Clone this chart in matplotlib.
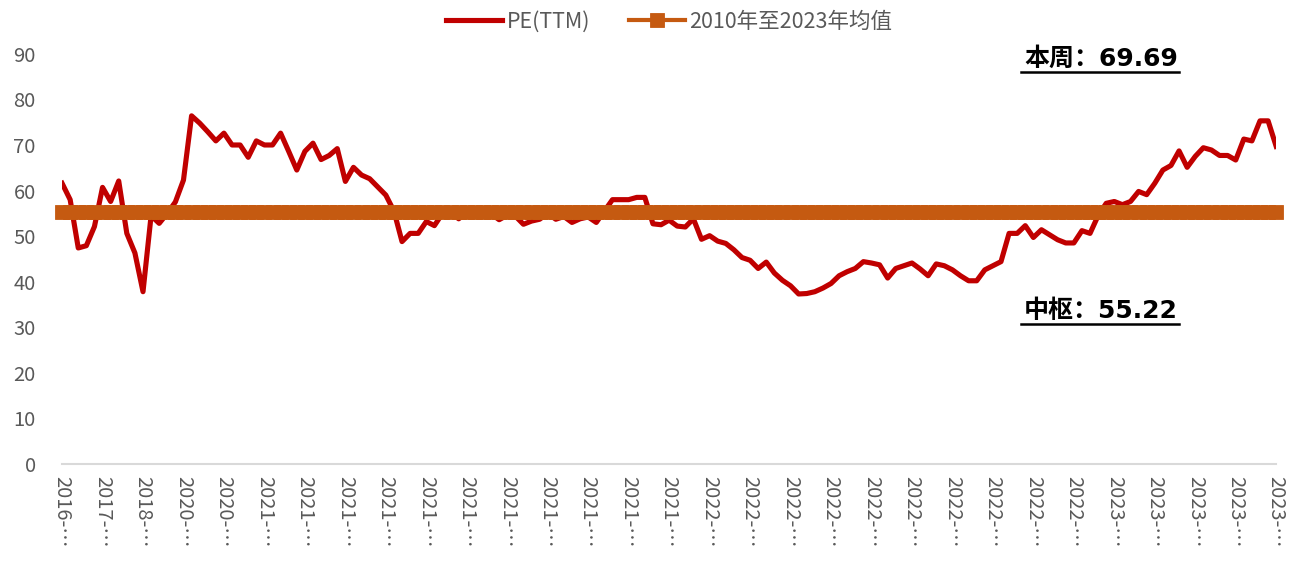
import matplotlib
matplotlib.use("Agg")
import matplotlib.pyplot as plt
from matplotlib.lines import Line2D

plt.rcParams['font.family'] = ['Noto Sans CJK SC', 'DejaVu Sans']

# 横轴标签（每5个数据点一个）
tick_years = ['2016', '2017', '2018', '2020', '2020'] + ['2021'] * 11 + ['2022'] * 10 + ['2023'] * 5

# PE(TTM) 序列
pe_ttm = [
    61.6, 58.0, 47.4, 47.9, 52.1, 60.7, 57.6, 62.1, 50.6, 46.3,
    37.8, 54.5, 52.8, 55.0, 57.5, 62.3, 76.4, 74.8, 72.9, 70.9,
    72.6, 70.0, 70.0, 67.3, 70.9, 70.0, 70.0, 72.6, 68.6, 64.5,
    68.6, 70.4, 66.8, 67.7, 69.2, 62.0, 65.1, 63.4, 62.6, 60.8,
    59.0, 55.5, 48.8, 50.6, 50.6, 53.2, 52.3, 55.0, 55.3, 53.8,
    55.2, 55.6, 55.2, 54.9, 53.6, 54.6, 54.4, 52.6, 53.3, 53.7,
    55.0, 53.7, 54.3, 53.0, 53.8, 54.2, 53.0, 55.5, 58.0, 58.0,
    58.0, 58.5, 58.5, 52.7, 52.5, 53.5, 52.2, 52.0, 53.8, 49.3,
    50.1, 48.9, 48.4, 47.0, 45.3, 44.7, 42.9, 44.3, 41.9, 40.3,
    39.1, 37.3, 37.4, 37.8, 38.6, 39.6, 41.3, 42.2, 42.9, 44.4,
    44.1, 43.7, 40.8, 42.9, 43.5, 44.1, 42.8, 41.3, 43.9, 43.5,
    42.6, 41.3, 40.2, 40.2, 42.6, 43.5, 44.4, 50.6, 50.6, 52.3,
    49.7, 51.4, 50.3, 49.2, 48.5, 48.5, 51.2, 50.6, 54.5, 57.2,
    57.6, 56.9, 57.6, 59.8, 59.1, 61.6, 64.5, 65.5, 68.7, 65.1,
    67.5, 69.4, 68.9, 67.7, 67.7, 66.7, 71.3, 70.9, 75.3, 75.3,
    69.69,
]

# 2010年至2023年均值
mean_value = 55.22
mean_line = [mean_value] * len(pe_ttm)

fig = plt.figure(figsize=(12.93, 5.61), dpi=100)
ax = fig.add_axes([0.048, 0.173, 0.939, 0.731])

x = list(range(len(pe_ttm)))
ax.plot(x, pe_ttm, color='#C00000', lw=3.7, label='PE(TTM)', zorder=2)
ax.plot(x, mean_line, color='#C55A11', lw=3, marker='s', ms=9.5, mew=0.6,
        label='2010年至2023年均值', zorder=3, clip_on=False)

ax.set_xlim(0, len(pe_ttm) - 1)
ax.set_ylim(0, 90)
ax.set_yticks(range(0, 91, 10))
ax.set_xticks(range(0, len(pe_ttm), 5))
ax.set_xticklabels([y + '-…' for y in tick_years], rotation=-90)

for s in ['top', 'right', 'left']:
    ax.spines[s].set_visible(False)
ax.spines['bottom'].set_color('#D9D9D9')
ax.spines['bottom'].set_linewidth(1.5)
ax.tick_params(axis='both', length=0, colors='#595959', labelsize=14.5)
ax.tick_params(axis='y', pad=19)
ax.tick_params(axis='x', pad=9)

ax.legend(loc='center', bbox_to_anchor=(0.5, 1.078), ncol=2, frameon=False,
          fontsize=15.5, handlelength=2.6, handletextpad=0.2, columnspacing=1.8,
          labelcolor='#595959')

# 标注文字 + 下划线
lab_font = dict(fontsize=18, fontweight='bold', color='black',
                family=['DejaVu Sans', 'Noto Sans CJK SC'])
t1 = ax.text(0.919, 0.987, '本周：69.69', transform=ax.transAxes, ha='right', va='center', **lab_font)
t2 = ax.text(0.919, 0.372, '中枢：55.22', transform=ax.transAxes, ha='right', va='center', **lab_font)

fig.canvas.draw()
inv = fig.transFigure.inverted()
for t in (t1, t2):
    bb = t.get_window_extent()
    (x0, y0), (x1, _) = inv.transform([(bb.x0 - 3, bb.y0 - 1), (bb.x1 + 1, bb.y0)])
    fig.add_artist(Line2D([x0, x1], [y0, y0], transform=fig.transFigure,
                          color='black', lw=1.8))

fig.savefig('out.png', dpi=100)
